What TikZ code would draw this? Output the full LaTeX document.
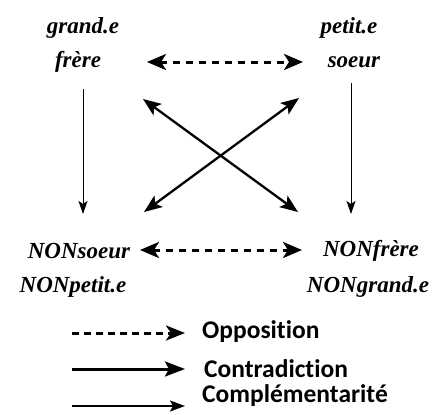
\documentclass[tikz,border=0pt]{standalone}
\usepackage{fontspec}
\setmainfont{Liberation Serif}
\newfontfamily\legfont[Ligatures={NoCommon}]{Carlito}
\usetikzlibrary{arrows.meta}
\tikzset{
  term/.style={inner sep=0pt, font=\fontsize{23}{27}\selectfont\bfseries\itshape},
  legtext/.style={inner sep=0pt, anchor=west, font=\legfont\fontsize{25.5}{30}\selectfont\bfseries},
  oppo/.style={line width=3pt, dash pattern=on 7pt off 5pt, -{Stealth[length=19pt,width=15pt,inset=5pt]}},
  oppoboth/.style={line width=3pt, dash pattern=on 7pt off 6pt, {Stealth[length=19pt,width=16pt,inset=5pt]}-{Stealth[length=19pt,width=16pt,inset=5pt]}},
  contra/.style={line width=2.3pt, {Stealth[length=18pt,width=14pt,inset=4pt]}-{Stealth[length=18pt,width=14pt,inset=4pt]}},
  contraone/.style={line width=3pt, -{Stealth[length=20pt,width=15pt,inset=4pt]}},
  compl/.style={line width=1pt, -{Stealth[length=13pt,width=9pt,inset=3pt]}},
  complleg/.style={line width=1.3pt, -{Stealth[length=15pt,width=11pt,inset=3pt]}}
}
\begin{document}
\begin{tikzpicture}[x=1pt,y=-1pt]
\useasboundingbox (0,0) rectangle (440,415);
% terms
\node[term] (ge) at (83,28) {grand.e};
\node[term] (fr) at (78,62) {frère};
\node[term] (pe) at (349,28) {petit.e};
\node[term] (so) at (354,62) {soeur};
\node[term] (ns) at (79,251) {NONsoeur};
\node[term] (np) at (73,287) {NONpetit.e};
\node[term] (nf) at (371,251) {NONfrère};
\node[term] (ng) at (368,287) {NONgrand.e};
% anchor coordinates for connectors
\coordinate (tl) at (147,62);
\coordinate (tr) at (303,62);
\coordinate (bl) at (140,250);
\coordinate (br) at (302,250);
\coordinate (vl1) at (83,89);
\coordinate (vl2) at (83,214);
\coordinate (vr1) at (351,83);
\coordinate (vr2) at (351,214);
\coordinate (x1a) at (143,99);
\coordinate (x1b) at (298,212);
\coordinate (x2a) at (299,98);
\coordinate (x2b) at (144,212);
% connectors
\draw[oppoboth] (tl) -- (tr);
\draw[oppoboth] (bl) -- (br);
\draw[compl] (vl1) -- (vl2);
\draw[compl] (vr1) -- (vr2);
\draw[contra] (x1a) -- (x1b);
\draw[contra] (x2a) -- (x2b);
% legend
\coordinate (l1a) at (72,333);
\coordinate (l1b) at (185,333);
\coordinate (l2a) at (72,369);
\coordinate (l2b) at (185,369);
\coordinate (l3a) at (72,406);
\coordinate (l3b) at (185,406);
\draw[oppo] (l1a) -- (l1b);
\draw[contraone] (l2a) -- (l2b);
\draw[complleg] (l3a) -- (l3b);
\node[legtext] (t1) at (202,332) {Opposition};
\node[legtext] (t2) at (204,369) {Contradiction};
\node[legtext] (t3) at (202,396) {Complémentarité};
\end{tikzpicture}
\end{document}
